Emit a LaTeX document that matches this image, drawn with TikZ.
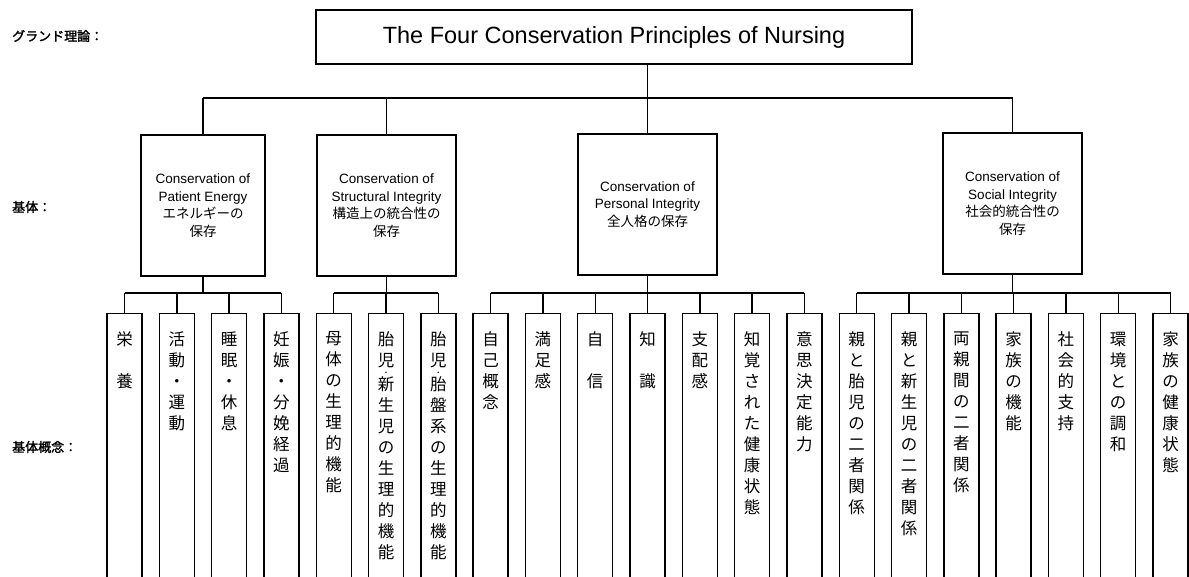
\documentclass[tikz,border=0pt]{standalone}
\usepackage{fontspec}
\setmainfont{Liberation Sans}
\newfontfamily\jp{Noto Sans CJK JP}
\newfontfamily\jpb[FakeBold=1.8]{Noto Sans CJK JP}
\usepackage{tikz}
\usetikzlibrary{positioning, calc}

% small middle dot squeezed between two column characters
\newcommand{\sdot}{{\fontsize{7}{7}\selectfont ・}}

\begin{document}
\begin{tikzpicture}[x=1pt, y=-1pt,
  topbox/.style={
    draw, line width=1.4pt, minimum width=596pt, minimum height=54pt,
    font=\fontsize{23.5}{28}\selectfont, inner sep=0pt
  },
  basebox/.style={
    draw, line width=1.4pt, minimum width=139pt, minimum height=141pt,
    align=center, font=\fontsize{13.5}{17.5}\selectfont, inner sep=0pt
  },
  colbox/.style={
    draw, line width=1.4pt, minimum width=35pt, minimum height=300pt,
    anchor=north, inner sep=0pt
  },
  coltext/.style={
    anchor=north, align=center, inner sep=0pt,
    font=\jp\fontsize{16.5}{21}\selectfont
  },
  levlabel/.style={anchor=west, inner sep=0pt, font=\jpb\fontsize{13}{15}\selectfont},
  conn/.style={line width=1.4pt},
]

% ---------------------------------------------------------------
% Page 1189 x 577, units in pt, y grows downward
% ---------------------------------------------------------------
\useasboundingbox (0,0) rectangle (1189,577);
\clip (0,0) rectangle (1189,577);
\def\cp{52.3}  % column pitch

% ===== Level labels (left) =====
\node[levlabel] (lgrand) at (12, 36) {グランド理論：};
\node[levlabel] (lbase)  at (12, 207) {基体：};
\node[levlabel] (lconc)  at (12, 447) {基体概念：};

% ===== Grand theory =====
\node[topbox] (grand) at (614, 37) {The Four Conservation Principles of Nursing};

% ===== Four conservation principles =====
\node[basebox, minimum width=124pt] (b1) at (203, 205.5)
  {Conservation of\\Patient Energy\\{\jp エネルギーの}\\{\jp 保存}};
\node[basebox] (b2) at (386.5, 205.5)
  {Conservation of\\Structural Integrity\\{\jp 構造上の統合性の}\\{\jp 保存}};
\node[basebox] (b3) at (647.5, 204.5)
  {Conservation of\\Personal Integrity\\{\jp 全人格の保存}};
\node[basebox] (b4) at (1012.5, 203.5)
  {Conservation of\\Social Integrity\\{\jp 社会的統合性の}\\{\jp 保存}};

% ===== Concept columns (open at the bottom) =====
\foreach \lbl [count=\i] in {
  {栄\\[21pt]養},
  {活\\動\\・\\運\\動},
  {睡\\眠\\・\\休\\息},
  {妊\\娠\\・\\分\\娩\\経\\過},
  {母\\体\\の\\生\\理\\的\\機\\能},
  {胎\\児\\[-12.3pt]\sdot\\[-5.7pt]新\\生\\児\\の\\生\\理\\的\\機\\能},
  {胎\\児\\[-12.3pt]\sdot\\[-5.7pt]胎\\盤\\系\\の\\生\\理\\的\\機\\能},
  {自\\己\\概\\念},
  {満\\足\\感},
  {自\\[21pt]信},
  {知\\[21pt]識},
  {支\\配\\感},
  {知\\覚\\さ\\れ\\た\\健\\康\\状\\態},
  {意\\思\\決\\定\\能\\力},
  {親\\と\\胎\\児\\の\\二\\者\\関\\係},
  {親\\と\\新\\生\\児\\の\\二\\者\\関\\係},
  {両\\親\\間\\の\\二\\者\\関\\係},
  {家\\族\\の\\機\\能},
  {社\\会\\的\\支\\持},
  {環\\境\\と\\の\\調\\和},
  {家\\族\\の\\健\\康\\状\\態}}{
  \pgfmathsetmacro\cx{124.5 + \cp*(\i-1)}
  \node[colbox] (c\i) at (\cx, 313) {};
  \node[coltext] (t\i) at ([yshift=-18.5pt]c\i.north) {\lbl};
}

% ===== Connectors =====
\coordinate (topbar) at (0, 98);
\coordinate (lowbar) at (0, 293);

% grand theory -> principles
\draw[conn] (grand.south -| b3.north) -- (b3.north);
\draw[conn] (b1.north |- topbar) -- (b4.north |- topbar);
\foreach \b in {1,2,4}{ \draw[conn] (b\b.north) -- (b\b.north |- topbar); }

% principles -> concepts
\foreach \b/\f/\l in {1/1/4, 2/5/7, 3/8/14, 4/15/21}{
  \draw[conn] (b\b.south) -- (b\b.south |- lowbar);
  \draw[conn] (c\f.north |- lowbar) -- (c\l.north |- lowbar);
  \foreach \k in {\f,...,\l}{ \draw[conn] (c\k.north) -- (c\k.north |- lowbar); }
}

\end{tikzpicture}
\end{document}
